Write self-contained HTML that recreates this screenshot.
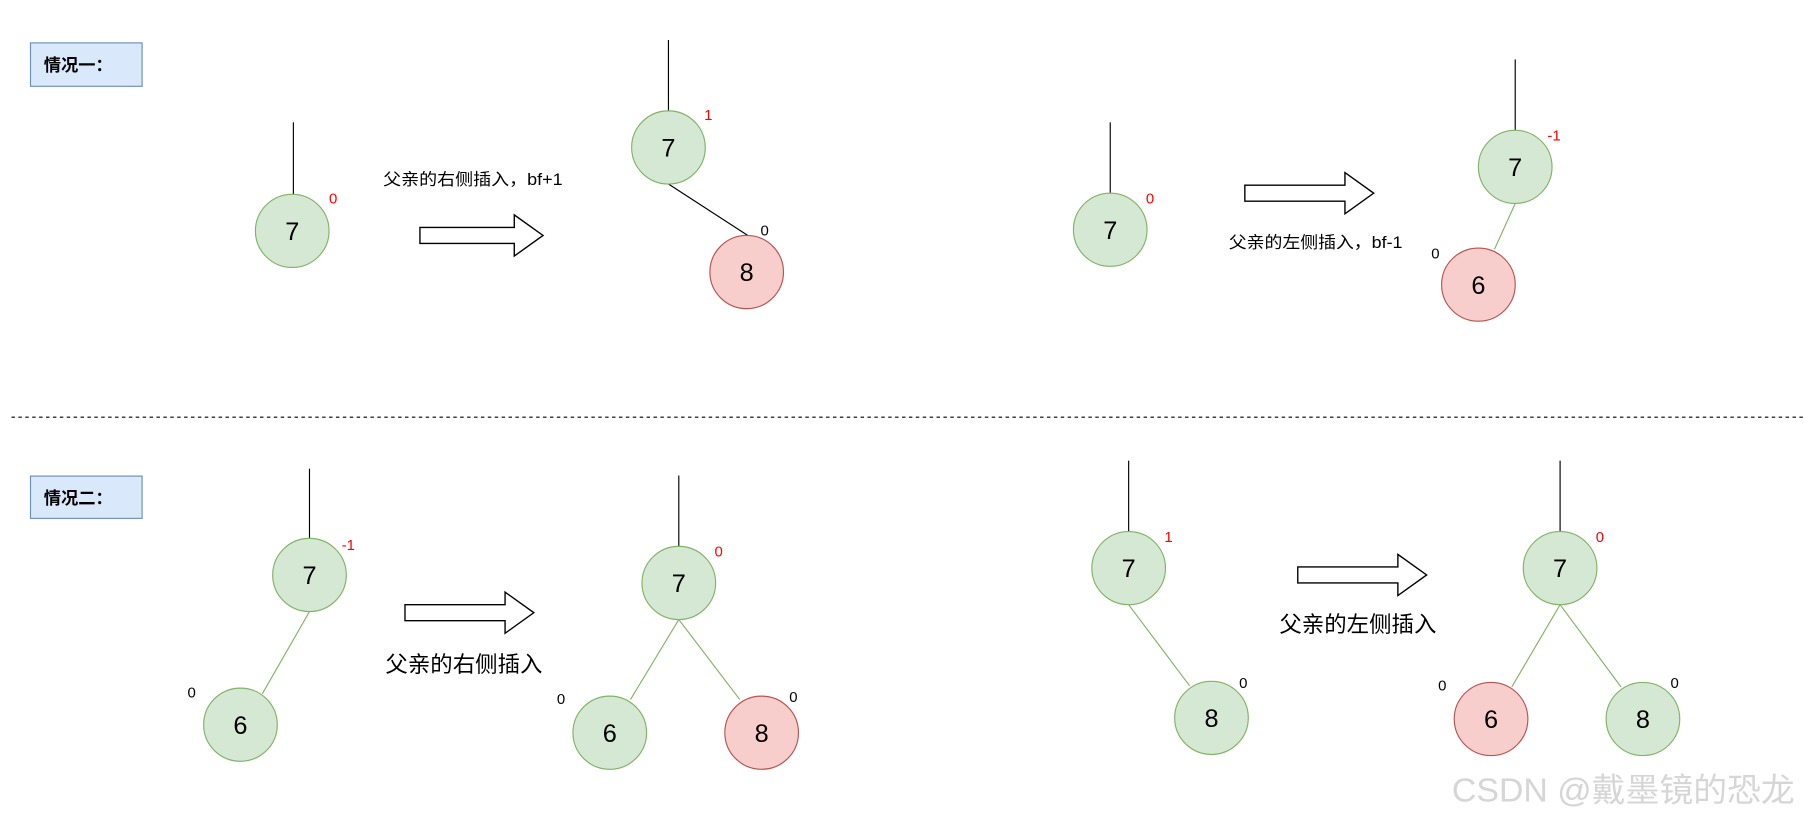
<!DOCTYPE html>
<html><head><meta charset="utf-8"><style>
html,body{margin:0;padding:0;background:#fff;width:1804px;height:823px;overflow:hidden}
svg{display:block}
text{font-family:"Liberation Sans","Noto Sans CJK SC",sans-serif}
</style></head><body>
<svg width="1804" height="823" viewBox="0 0 1568 720" preserveAspectRatio="none" xmlns="http://www.w3.org/2000/svg">
<rect x="26.5" y="37.5" width="97" height="38" fill="#dae8fc" stroke="#6c8ebf"/>
<text x="38" y="62" font-size="15" font-weight="bold">情况一：</text>
<rect x="26.5" y="416.5" width="97" height="37" fill="#dae8fc" stroke="#6c8ebf"/>
<text x="38" y="441" font-size="15" font-weight="bold">情况二：</text>
<line x1="10" y1="365" x2="1568" y2="365" stroke="#000" stroke-dasharray="3,3"/>

<g stroke-width="1">
<line x1="255" y1="107" x2="255" y2="170" stroke="#000"/>
<line x1="581" y1="35" x2="581" y2="97" stroke="#000"/>
<line x1="581" y1="161" x2="650" y2="206" stroke="#000"/>
<line x1="965" y1="107" x2="965" y2="169" stroke="#000"/>
<line x1="1317" y1="52" x2="1317" y2="114" stroke="#000"/>
<line x1="1317" y1="178" x2="1299" y2="218" stroke="#82b366"/>
<line x1="269" y1="410" x2="269" y2="471" stroke="#000"/>
<line x1="269" y1="535" x2="228" y2="607" stroke="#82b366"/>
<line x1="590" y1="416" x2="590" y2="478" stroke="#000"/>
<line x1="590" y1="542" x2="548" y2="612" stroke="#82b366"/>
<line x1="590" y1="542" x2="643" y2="612" stroke="#82b366"/>
<line x1="981" y1="403" x2="981" y2="465" stroke="#000"/>
<line x1="981" y1="529" x2="1034" y2="600" stroke="#82b366"/>
<line x1="1356" y1="403" x2="1356" y2="465" stroke="#000"/>
<line x1="1356" y1="529" x2="1314" y2="601" stroke="#82b366"/>
<line x1="1356" y1="529" x2="1409" y2="601" stroke="#82b366"/>
</g>

<g font-size="22" text-anchor="middle">
<circle cx="254" cy="202" r="32" fill="#d5e8d4" stroke="#82b366"/><text x="254" y="210">7</text>
<circle cx="581" cy="129" r="32" fill="#d5e8d4" stroke="#82b366"/><text x="581" y="137">7</text>
<circle cx="649" cy="238" r="32" fill="#f8cecc" stroke="#b85450"/><text x="649" y="246">8</text>
<circle cx="965" cy="201" r="32" fill="#d5e8d4" stroke="#82b366"/><text x="965" y="209">7</text>
<circle cx="1317" cy="146" r="32" fill="#d5e8d4" stroke="#82b366"/><text x="1317" y="154">7</text>
<circle cx="1285" cy="249" r="32" fill="#f8cecc" stroke="#b85450"/><text x="1285" y="257">6</text>
<circle cx="269" cy="503" r="32" fill="#d5e8d4" stroke="#82b366"/><text x="269" y="511">7</text>
<circle cx="209" cy="634" r="32" fill="#d5e8d4" stroke="#82b366"/><text x="209" y="642">6</text>
<circle cx="590" cy="510" r="32" fill="#d5e8d4" stroke="#82b366"/><text x="590" y="518">7</text>
<circle cx="530" cy="641" r="32" fill="#d5e8d4" stroke="#82b366"/><text x="530" y="649">6</text>
<circle cx="662" cy="641" r="32" fill="#f8cecc" stroke="#b85450"/><text x="662" y="649">8</text>
<circle cx="981" cy="497" r="32" fill="#d5e8d4" stroke="#82b366"/><text x="981" y="505">7</text>
<circle cx="1053" cy="628" r="32" fill="#d5e8d4" stroke="#82b366"/><text x="1053" y="636">8</text>
<circle cx="1356" cy="497" r="32" fill="#d5e8d4" stroke="#82b366"/><text x="1356" y="505">7</text>
<circle cx="1296" cy="629" r="32" fill="#f8cecc" stroke="#b85450"/><text x="1296" y="637">6</text>
<circle cx="1428" cy="629" r="32" fill="#d5e8d4" stroke="#82b366"/><text x="1428" y="637">8</text>
</g>

<g font-size="13">
<text x="286" y="178" fill="#f00">0</text>
<text x="612" y="105" fill="#f00">1</text>
<text x="661" y="206">0</text>
<text x="996" y="178" fill="#f00">0</text>
<text x="1345" y="123" fill="#f00">-1</text>
<text x="1244" y="226">0</text>
<text x="297" y="481" fill="#f00">-1</text>
<text x="163" y="610">0</text>
<text x="621" y="487" fill="#f00">0</text>
<text x="484" y="616">0</text>
<text x="686" y="614">0</text>
<text x="1012" y="474" fill="#f00">1</text>
<text x="1077" y="602">0</text>
<text x="1387" y="474" fill="#f00">0</text>
<text x="1250" y="604">0</text>
<text x="1452" y="602">0</text>
</g>

<g fill="#fff" stroke="#000" stroke-width="1.2">
<polygon points="365,199 447,199 447,188 472,206 447,224 447,213 365,213"/>
<polygon points="1082,162 1169,162 1169,151 1194,169 1169,187 1169,176 1082,176"/>
<polygon points="352,529 439,529 439,518 464,536 439,554 439,543 352,543"/>
<polygon points="1128,496 1215,496 1215,485 1240,503 1215,521 1215,510 1128,510"/>
</g>

<text x="333" y="162" font-size="14.5" textLength="156" lengthAdjust="spacingAndGlyphs">父亲的右侧插入，bf+1</text>
<text x="1068" y="217" font-size="14.5" textLength="151" lengthAdjust="spacingAndGlyphs">父亲的左侧插入，bf-1</text>
<text x="335" y="588" font-size="19.5">父亲的右侧插入</text>
<text x="1112" y="553" font-size="19.5">父亲的左侧插入</text>

<text x="1262" y="701" font-size="29" fill="#d6d6d6" textLength="298" lengthAdjust="spacingAndGlyphs">CSDN @戴墨镜的恐龙</text>
</svg>
</body></html>
